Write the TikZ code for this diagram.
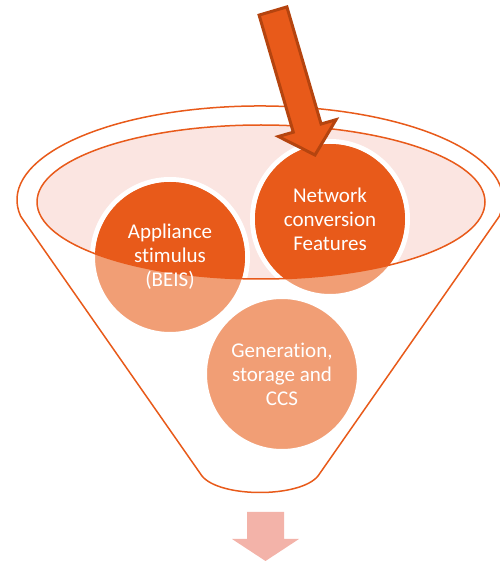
\documentclass[tikz,border=0pt]{standalone}
\usepackage{fontspec}
\setmainfont{Carlito}[Ligatures={NoCommon,NoContextual}]
\definecolor{orD}{HTML}{E85A1A}
\definecolor{orL}{HTML}{F19E75}
\definecolor{pinkF}{HTML}{FBE5E1}
\definecolor{arrB}{HTML}{B5440F}
\definecolor{arrBot}{HTML}{F3B3A9}
\tikzset{
  lbl/.style={text=white, align=center, font=\fontsize{21}{24}\selectfont},
  outl/.style={orD, line width=1.5pt, line join=round},
}
\begin{document}
\begin{tikzpicture}[x=1pt,y=1pt]
\useasboundingbox (0,0) rectangle (500,563);
\clip (0,0) rectangle (500,563);
% funnel outline
\draw[outl] (20.7,346.7) arc[start angle=190,end angle=-10,x radius=243,y radius=94]
  -- (318,87) .. controls (300,65) and (220,65) .. (202,87) -- cycle;
% inner ellipse fill
\fill[pinkF] (261,361) ellipse[x radius=224, y radius=77];
% circles, light layer
\foreach \c in {(170,306),(330,344),(282,189)}{
  \filldraw[fill=orL, draw=white, line width=5pt] \c circle[radius=77.5];
}
% circles, dark layer inside the ellipse
\begin{scope}
  \clip (261,361) ellipse[x radius=224, y radius=77];
  \foreach \c in {(170,306),(330,344),(282,189)}{
    \fill[orD] \c circle[radius=75];
  }
\end{scope}
% inner ellipse outline
\draw[outl] (261,361) ellipse[x radius=224, y radius=77];
% labels
\node[lbl] (app) at (170,306) {Appliance\\st\kern0pt imulus\\(BEIS)};
\node[lbl] (net) at (330,344) {Network\\conversion\\Features};
\node[lbl] (gen) at (282,189) {Generation,\\storage and\\CCS};
% top arrow
\filldraw[fill=orD, draw=arrB, line width=3pt, line join=miter]
  (259.1,547.9) -- (286.9,556.1) -- (321.1,439) -- (336,443.3) -- (315,408)
  -- (278.4,426.5) -- (293.3,430.8) -- cycle;
% bottom arrow
\fill[arrBot] (247,51) -- (284,51) -- (284,24) -- (299,24) -- (265.5,2)
  -- (232,24) -- (247,24) -- cycle;
\end{tikzpicture}
\end{document}
